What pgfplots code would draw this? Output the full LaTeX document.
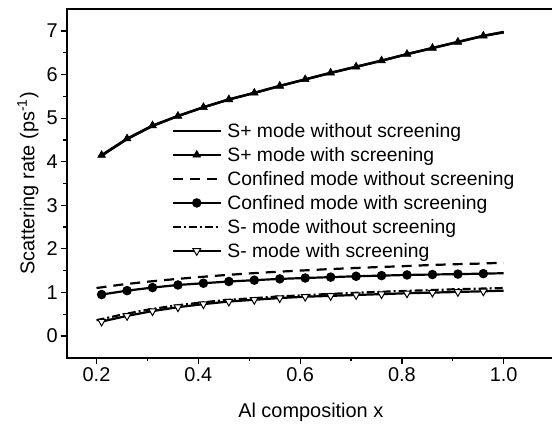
\documentclass[border=0pt]{standalone}
\usepackage{pgfplots}
\pgfplotsset{compat=1.18}
\usepackage{fontspec}
\setmainfont{Liberation Sans}
\begin{document}
\begin{tikzpicture}
\useasboundingbox (-67bp,-70.3bp) rectangle (485bp,357.7bp);
\begin{axis}[
  at={(0,0)}, anchor=south west,
  scale only axis, width=487.6bp, height=348.4bp,
  xmin=0.142, xmax=1.1, ymin=-0.5, ymax=7.5,
  xtick={0.2,0.4,0.6,0.8,1.0}, ytick={0,1,2,3,4,5,6,7},
  minor x tick num=1, minor y tick num=1,
  xtick pos=bottom, ytick pos=left,
  tick align=outside,
  major tick length=6bp, minor tick length=3.5bp,
  every tick/.style={black, line width=1.2bp},
  axis line style={line width=1.7bp},
  /pgf/number format/assume math mode=true,
  xticklabel style={/pgf/number format/fixed, /pgf/number format/fixed zerofill, /pgf/number format/precision=1, inner sep=1bp, yshift=-3bp},
  ticklabel style={font=\fontsize{20}{24}\selectfont},
  yticklabel style={inner sep=1bp, xshift=-2bp},
  xlabel={Al composition x},
  ylabel={Scattering rate (ps\textsuperscript{-1})},
  every axis x label/.style={at={(axis description cs:0.5,-0.158)}, anchor=center, font=\fontsize{20}{24}\selectfont},
  every axis y label/.style={at={(axis description cs:-0.080,0.5)}, anchor=center, rotate=90, font=\fontsize{20}{24}\selectfont},
  legend style={draw=none, fill=none, at={(rel axis cs:0.214,0.678)}, anchor=north west,
    font=\fontsize{19.4}{22}\selectfont, inner sep=0pt, row sep=5.5bp, column sep=4bp,
    nodes={inner sep=1.5bp}},
  legend cell align=left,
  legend image code/.code={\draw[#1, mark indices={2}] plot coordinates {(0bp,0bp) (24bp,0bp) (48bp,0bp)};},
]
% S+ without screening
\addplot[black, line width=2.4bp] coordinates {
(0.21,4.14)(0.26,4.52)(0.31,4.82)(0.36,5.05)(0.41,5.25)(0.46,5.43)(0.51,5.58)(0.56,5.74)(0.61,5.89)(0.66,6.04)(0.71,6.18)(0.76,6.32)(0.81,6.47)(0.86,6.61)(0.91,6.75)(0.96,6.89)(1.0,6.98)};
\addlegendentry{S+ mode without screening}
% S+ with screening
\addplot[black, line width=2.4bp, mark=triangle*, mark size=4.6bp, mark indices={1,...,16}, mark options={solid, line width=0.5bp}] coordinates {
(0.21,4.15)(0.26,4.53)(0.31,4.83)(0.36,5.05)(0.41,5.25)(0.46,5.43)(0.51,5.58)(0.56,5.74)(0.61,5.89)(0.66,6.04)(0.71,6.18)(0.76,6.32)(0.81,6.47)(0.86,6.61)(0.91,6.75)(0.96,6.89)(1.0,6.97)};
\addlegendentry{S+ mode with screening}
% Confined without screening
\addplot[black, line width=2.2bp, dash pattern=on 10bp off 7bp] coordinates {
(0.2,1.10)(0.25,1.18)(0.3,1.245)(0.35,1.30)(0.4,1.35)(0.45,1.395)(0.5,1.435)(0.55,1.47)(0.6,1.50)(0.65,1.53)(0.7,1.555)(0.75,1.58)(0.8,1.60)(0.85,1.625)(0.9,1.645)(0.95,1.66)(1.0,1.68)};
\addlegendentry{Confined mode without screening}
% Confined with screening
\addplot[black, line width=2.2bp, mark=*, mark size=3.6bp, mark indices={1,...,16}, mark options={solid}] coordinates {
(0.21,0.95)(0.26,1.04)(0.31,1.11)(0.36,1.17)(0.41,1.21)(0.46,1.25)(0.51,1.28)(0.56,1.31)(0.61,1.33)(0.66,1.35)(0.71,1.37)(0.76,1.385)(0.81,1.40)(0.86,1.41)(0.91,1.42)(0.96,1.43)(1.0,1.44)};
\addlegendentry{Confined mode with screening}
% S- without screening
\addplot[black, line width=2.2bp, dash pattern=on 8bp off 3bp on 2bp off 3bp] coordinates {
(0.2,0.36)(0.25,0.49)(0.3,0.60)(0.35,0.69)(0.4,0.76)(0.45,0.82)(0.5,0.86)(0.55,0.90)(0.6,0.93)(0.65,0.96)(0.7,0.985)(0.75,1.01)(0.8,1.03)(0.85,1.05)(0.9,1.07)(0.95,1.085)(1.0,1.10)};
\addlegendentry{S- mode without screening}
% S- with screening
\addplot[black, line width=2.2bp, mark=triangle*, mark size=4.4bp, mark indices={1,...,16}, mark options={solid, rotate=180, fill=white, draw=black, line width=1bp}] coordinates {
(0.21,0.33)(0.26,0.46)(0.31,0.57)(0.36,0.66)(0.41,0.73)(0.46,0.79)(0.51,0.83)(0.56,0.87)(0.61,0.90)(0.66,0.92)(0.71,0.94)(0.76,0.96)(0.81,0.98)(0.86,0.995)(0.91,1.01)(0.96,1.025)(1.0,1.04)};
\addlegendentry{S- mode with screening}
\end{axis}
\end{tikzpicture}
\end{document}
